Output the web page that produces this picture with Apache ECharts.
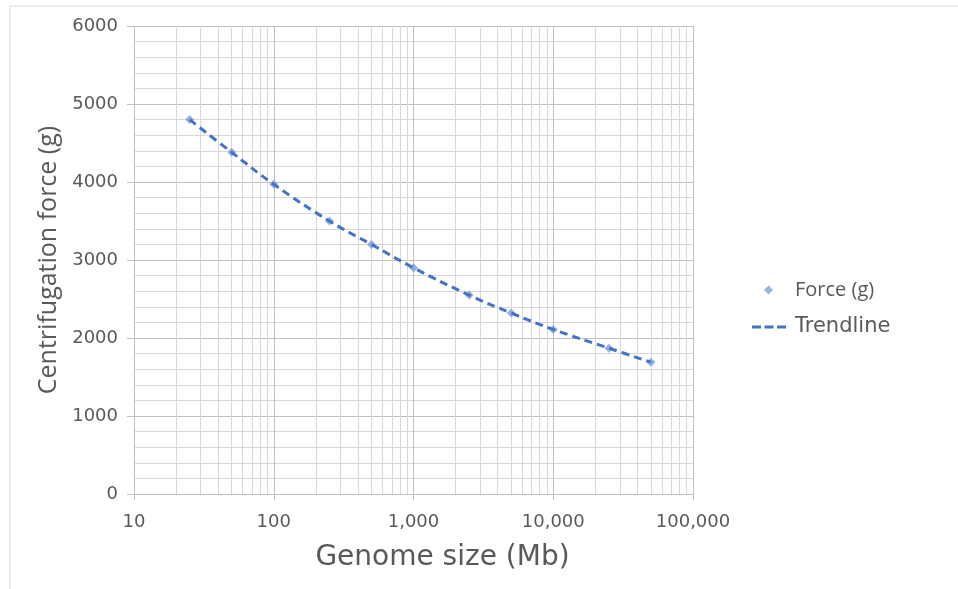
<!DOCTYPE html>
<html>
<head>
<meta charset="utf-8">
<script src="https://cdn.jsdelivr.net/npm/echarts@6/dist/echarts.min.js"></script>
<style>
  html, body { margin: 0; padding: 0; background: #ffffff; }
  #frame { position: absolute; left: 9px; top: 5px; width: 960px; height: 600px;
           border-top: 2px solid #ececec; border-left: 2px solid #ececec; }
  #chart { position: absolute; left: 0; top: 0; width: 958px; height: 589px; }
</style>
</head>
<body>
<div id="frame"></div>
<div id="chart"></div>
<script>
// ---- data ----
const genomeSizes = [25, 50, 100, 250, 500, 1000, 2500, 5000, 10000, 25000, 50000];
const forceValues = [4800, 4380, 3970, 3500, 3200, 2900, 2550, 2320, 2110, 1870, 1690];
const xTickLabels = ['10', '100', '1,000', '10,000', '100,000'];
const yTickLabels = ['0', '1000', '2000', '3000', '4000', '5000', '6000'];
const decades = [10, 100, 1000, 10000];
const minorMultipliers = [2, 3, 4, 5, 6, 7, 8, 9];

const pairs = genomeSizes.map((g, i) => [g, forceValues[i]]);
const minorLines = [];
decades.forEach(d => minorMultipliers.forEach(m => minorLines.push({ xAxis: d * m })));

const textColor = '#595959';
const dashIcon = 'path://M0 0H9V3H0Z M12.5 0H21.5V3H12.5Z M25 0H34V3H25Z';
const chart = echarts.init(document.getElementById('chart'));
chart.setOption({
  animation: false,
  backgroundColor: 'transparent',
  grid: { left: 134, right: 265, top: 26, bottom: 95, containLabel: false },
  legend: [
    {
      orient: 'vertical',
      left: 764,
      top: 279,
      padding: 0,
      itemWidth: 9,
      itemHeight: 9,
      data: [{ name: 'Force (g)', icon: 'diamond' }],
      textStyle: {
        fontFamily: 'Open Sans', fontSize: 20, lineHeight: 22, color: textColor,
        padding: [0, 0, 0, 17]
      }
    },
    {
      orient: 'vertical',
      left: 752,
      top: 316,
      padding: 0,
      itemWidth: 34,
      itemHeight: 3,
      data: [{ name: 'Trendline', icon: dashIcon }],
      textStyle: {
        fontFamily: 'DejaVu Sans', fontSize: 21, lineHeight: 22, color: textColor,
        padding: [0, 0, 0, 4]
      }
    }
  ],
  xAxis: {
    type: 'log',
    logBase: 10,
    min: 10,
    max: 100000,
    name: 'Genome size (Mb)',
    nameLocation: 'middle',
    nameGap: 50,
    nameTextStyle: { fontFamily: 'DejaVu Sans', fontSize: 28, color: textColor, padding: [0, 0, 0, 58] },
    axisLine: { show: true, lineStyle: { color: '#bfbfbf', width: 1 } },
    axisTick: { show: true, length: 6, lineStyle: { color: '#bfbfbf' } },
    axisLabel: {
      margin: 19,
      fontFamily: 'DejaVu Sans', fontSize: 18, color: textColor,
      formatter: v => xTickLabels[Math.round(Math.log10(v)) - 1]
    },
    splitLine: { show: true, lineStyle: { color: '#bfbfbf', width: 1 } }
  },
  yAxis: {
    type: 'value',
    min: 0,
    max: 6000,
    interval: 1000,
    name: 'Centrifugation force (g)',
    nameLocation: 'middle',
    nameGap: 73,
    nameTextStyle: { fontFamily: 'Open Sans', fontSize: 25, color: textColor },
    axisLine: { show: false },
    axisTick: { show: true, length: 7, lineStyle: { color: '#bfbfbf' } },
    axisLabel: {
      margin: 16,
      fontFamily: 'DejaVu Sans', fontSize: 18, color: textColor,
      formatter: v => yTickLabels[Math.round(v / 1000)]
    },
    splitLine: { show: true, lineStyle: { color: '#bfbfbf', width: 1 } },
    minorTick: { show: false, splitNumber: 5 },
    minorSplitLine: { show: true, lineStyle: { color: '#d8d8d8', width: 1 } }
  },
  series: [
    {
      name: 'Force (g)',
      type: 'scatter',
      data: pairs,
      symbol: 'diamond',
      symbolSize: 9,
      itemStyle: { color: '#7a9edf' },
      z: 3,
      markLine: {
        silent: true,
        symbol: ['none', 'none'],
        label: { show: false },
        lineStyle: { color: '#d8d8d8', width: 1, type: 'solid' },
        data: minorLines,
        z: 1
      }
    },
    {
      name: 'Trendline',
      type: 'line',
      data: pairs,
      smooth: 0.4,
      symbol: 'none',
      lineStyle: { color: '#4472c4', width: 3, type: [8, 5] },
      itemStyle: { color: '#4472c4' },
      z: 4
    }
  ]
});
</script>
</body>
</html>
